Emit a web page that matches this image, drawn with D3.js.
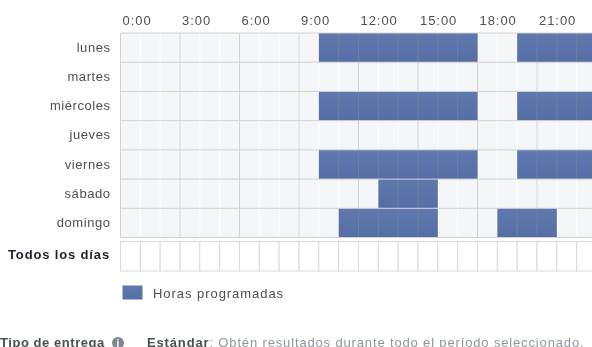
<!DOCTYPE html>
<html>
<head>
<meta charset="utf-8">
<script src="https://cdn.jsdelivr.net/npm/d3@7"></script>
<style>
html,body{margin:0;padding:0;background:#fff;overflow:hidden}
svg{display:block;font-family:"Liberation Sans",sans-serif;filter:blur(0.35px)}
</style>
</head>
<body>
<svg></svg>
<script>
var days = ["lunes","martes","miércoles","jueves","viernes","sábado","domingo"];
var hourTicks = [0,3,6,9,12,15,18,21];
var hours = d3.range(0,24);

// start and end hour of every programmed block, per day
var lunes = [[10,18],[20,24]];
var martes = [];
var miercoles = [[10,18],[20,24]];
var jueves = [];
var viernes = [[10,18],[20,24]];
var sabado = [[13,16]];
var domingo = [[11,16],[19,22]];
var schedule = [lunes,martes,miercoles,jueves,viernes,sabado,domingo];

var screen = {width:592, height:347};
var margins = {top:33,left:120.5};
var graph = {width:476, height:204.5};

var svg = d3.select("svg")
    .attr("width",screen.width)
    .attr("height",screen.height);

var grad = svg.append("defs")
    .append("linearGradient")
    .attr("id","blockFill")
    .attr("x1",0).attr("y1",0)
    .attr("x2",0).attr("y2",1);
grad.append("stop").attr("offset","0%").attr("stop-color","#5f78ad");
grad.append("stop").attr("offset","100%").attr("stop-color","#566ea6");

var xScale = d3.scaleLinear()
    .domain([0,24])
    .range([0,graph.width]);

var yScale = d3.scaleBand()
    .domain(days)
    .range([0,graph.height]);

var g = svg.append("g")
    .attr("transform","translate("+margins.left+","+margins.top+")");

// background
g.append("rect")
    .attr("width",graph.width)
    .attr("height",graph.height)
    .attr("fill","#f5f6f8");

// thin white lines each hour
g.selectAll(".hourLine")
    .data(hours)
    .enter()
    .append("line")
    .attr("x1",function(d){return xScale(d);})
    .attr("x2",function(d){return xScale(d);})
    .attr("y1",0)
    .attr("y2",graph.height)
    .attr("stroke","#ffffff")
    .attr("stroke-width",1);

// stronger grid lines every three hours
g.selectAll(".thirdLine")
    .data(hourTicks)
    .enter()
    .append("line")
    .attr("x1",function(d){return xScale(d);})
    .attr("x2",function(d){return xScale(d);})
    .attr("y1",0)
    .attr("y2",graph.height)
    .attr("stroke","#cfd1d5")
    .attr("stroke-width",1);

// programmed blocks
days.forEach(function(day,i)
{
    g.selectAll(".block"+i)
        .data(schedule[i])
        .enter()
        .append("rect")
        .attr("x",function(d){return xScale(d[0]);})
        .attr("y",yScale(day))
        .attr("width",function(d){return xScale(d[1])-xScale(d[0]);})
        .attr("height",yScale.bandwidth())
        .attr("fill","url(#blockFill)");

    // hour lines inside the blocks
    hours.forEach(function(h)
    {
        var on = schedule[i].some(function(b){return h>b[0] && h<b[1];});
        if(on)
        {
            g.append("line")
                .attr("x1",xScale(h))
                .attr("x2",xScale(h))
                .attr("y1",yScale(day))
                .attr("y2",yScale(day)+yScale.bandwidth())
                .attr("stroke","#6f809f")
                .attr("stroke-width",1);
        }
    });
});

// row separators
g.selectAll(".rowLine")
    .data(d3.range(0,days.length+1))
    .enter()
    .append("line")
    .attr("x1",0)
    .attr("x2",graph.width)
    .attr("y1",function(d){return d*yScale.step();})
    .attr("y2",function(d){return d*yScale.step();})
    .attr("stroke","#d0d2d6")
    .attr("stroke-width",1);

// axes
var xAxis = d3.axisTop(xScale)
    .tickValues(hourTicks)
    .tickSize(0)
    .tickPadding(8)
    .tickFormat(function(d){return d+":00";});

var axisTop = g.append("g").call(xAxis);
axisTop.select(".domain").remove();
axisTop.selectAll("text")
    .attr("text-anchor","start")
    .attr("dx",1.5)
    .attr("fill","#4b4f56")
    .style("font-size","13px")
    .style("font-family","'Liberation Sans',sans-serif")
    .style("letter-spacing","0.95px");

var yAxis = d3.axisLeft(yScale)
    .tickSize(0)
    .tickPadding(10);

var axisLeft = g.append("g").call(yAxis);
axisLeft.select(".domain").remove();
axisLeft.selectAll("text")
    .attr("fill","#4b4f56")
    .style("font-size","13px")
    .style("font-family","'Liberation Sans',sans-serif")
    .style("letter-spacing","0.55px");

// "Todos los dias" row
var allDays = svg.append("g")
    .attr("transform","translate("+margins.left+",241.5)");

allDays.selectAll("rect")
    .data(hours)
    .enter()
    .append("rect")
    .attr("x",function(d){return xScale(d);})
    .attr("width",xScale(1)-xScale(0))
    .attr("height",29.5)
    .attr("fill","#ffffff")
    .attr("stroke","#d8dade")
    .attr("stroke-width",1);

svg.append("text")
    .attr("x",110)
    .attr("y",259)
    .attr("text-anchor","end")
    .attr("fill","#1d2129")
    .style("font-size","13px")
    .style("font-weight","bold")
    .style("letter-spacing","0.85px")
    .text("Todos los días");

// legend
svg.append("rect")
    .attr("x",122.5)
    .attr("y",285.5)
    .attr("width",20)
    .attr("height",14)
    .attr("fill","url(#blockFill)");

svg.append("text")
    .attr("x",153)
    .attr("y",298)
    .attr("fill","#4b4f56")
    .style("font-size","13px")
    .style("letter-spacing","0.95px")
    .text("Horas programadas");

// footer
svg.append("text")
    .attr("x",0)
    .attr("y",346.5)
    .attr("fill","#4b4f56")
    .style("font-size","13px")
    .style("font-weight","bold")
    .style("letter-spacing","0.55px")
    .text("Tipo de entrega");

svg.append("circle")
    .attr("cx",118)
    .attr("cy",343)
    .attr("r",6)
    .attr("fill","#7f8791");

svg.append("text")
    .attr("x",118)
    .attr("y",347)
    .attr("text-anchor","middle")
    .attr("fill","#ffffff")
    .style("font-size","10px")
    .style("font-weight","bold")
    .text("i");

var footer = svg.append("text")
    .attr("x",147)
    .attr("y",346.5)
    .style("font-size","13px")
    .style("letter-spacing","0.85px");

footer.append("tspan")
    .attr("fill","#4b4f56")
    .style("font-weight","bold")
    .text("Estándar");

footer.append("tspan")
    .attr("fill","#90949c")
    .text(": Obtén resultados durante todo el período seleccionado.");
</script>
</body>
</html>
